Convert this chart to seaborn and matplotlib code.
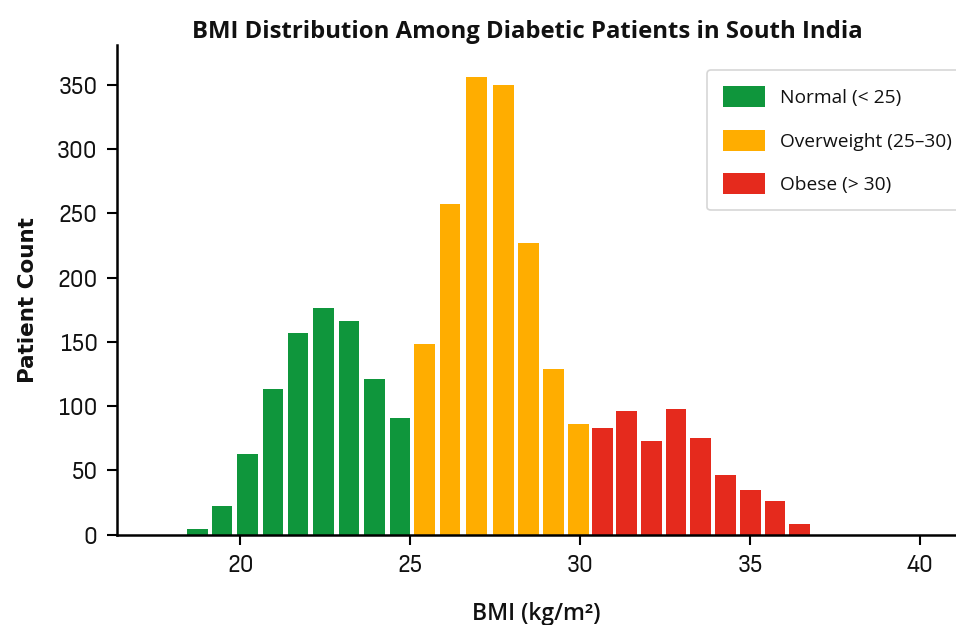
import numpy as np
import pandas as pd
import matplotlib
matplotlib.use('Agg')
import matplotlib.pyplot as plt
from matplotlib.patches import Patch
import seaborn as sns

# bar centres (BMI) and patient counts
normal_bmi = [18.74, 19.46, 20.22, 20.96, 21.70, 22.44, 23.20, 23.95, 24.70]
normal_count = [4, 22, 63, 113, 157, 176, 166, 121, 91]
overweight_bmi = [25.43, 26.17, 26.96, 27.75, 28.49, 29.22, 29.95]
overweight_count = [148, 257, 356, 350, 227, 129, 86]
obese_bmi = [30.66, 31.37, 32.10, 32.82, 33.55, 34.28, 35.01, 35.73, 36.46]
obese_count = [83, 96, 73, 98, 75, 46, 35, 26, 8]

categories = ['Normal (< 25)', 'Overweight (25–30)', 'Obese (> 30)']
colors = ['#0f963c', '#ffad00', '#e52a1d']
x_ticks = [20, 25, 30, 35, 40]
y_ticks = [0, 50, 100, 150, 200, 250, 300, 350]

df = pd.concat([
    pd.DataFrame({'bmi': normal_bmi, 'count': normal_count, 'group': categories[0]}),
    pd.DataFrame({'bmi': overweight_bmi, 'count': overweight_count, 'group': categories[1]}),
    pd.DataFrame({'bmi': obese_bmi, 'count': obese_count, 'group': categories[2]}),
], ignore_index=True)
palette = dict(zip(categories, colors))

sns.set_style('white')
plt.rcParams['font.family'] = ['Open Sans', 'DejaVu Sans']
narrow = ['Sofia Sans Semi Condensed', 'Open Sans']

fig = plt.figure(figsize=(9.56, 6.25), dpi=100)
ax = fig.add_axes([117 / 956, 1 - 534.5 / 625, 1 - 117 / 956, (534.5 - 45) / 625])

sns.barplot(data=df, x='bmi', y='count', hue='group', hue_order=categories,
            palette=palette, native_scale=True, dodge=False, width=0.86,
            errorbar=None, linewidth=0, saturation=1, legend=False, ax=ax)

ax.set_xlim(16.37, 41.06)
ax.set_ylim(0, 381)
ax.set_xticks(x_ticks)
ax.set_yticks(y_ticks)
ax.set_xticklabels([str(t) for t in x_ticks], fontsize=18, family=narrow)
ax.set_yticklabels([str(t) for t in y_ticks], fontsize=18, family=narrow)
ax.tick_params(axis='both', direction='out', length=7, width=1.5, color='black',
               labelcolor='#111111', pad=7, bottom=True, left=True)
sns.despine(ax=ax)
for side in ['left', 'bottom']:
    ax.spines[side].set_linewidth(1.8)
    ax.spines[side].set_color('black')

ax.set_xlabel('BMI (kg/m²)', fontsize=16.5, fontweight='semibold', labelpad=18, color='#111111')
ax.set_ylabel('Patient Count', fontsize=15.5, fontweight='bold', family='DejaVu Sans',
              color='#111111')
ax.yaxis.set_label_coords(-0.094, 0.479)
fig.suptitle('BMI Distribution Among Diabetic Patients in South India',
             x=0.552, y=0.968, fontsize=17.2, fontweight='bold', color='#111111')

handles = [Patch(facecolor=c, edgecolor='none') for c in colors]
leg = ax.legend(handles, categories, loc='upper left', bbox_to_anchor=(707 / 956, 1 - 70 / 625),
                bbox_transform=fig.transFigure, fontsize=13.8, frameon=True, fancybox=True,
                handlelength=2.2, handleheight=1.3, handletextpad=0.75, labelspacing=1.18,
                borderpad=0.85, borderaxespad=0)
leg.get_frame().set_edgecolor('#cccccc')
leg.get_frame().set_linewidth(1.2)
for t in leg.get_texts():
    t.set_color('#111111')

fig.savefig('out.png', dpi=100)
